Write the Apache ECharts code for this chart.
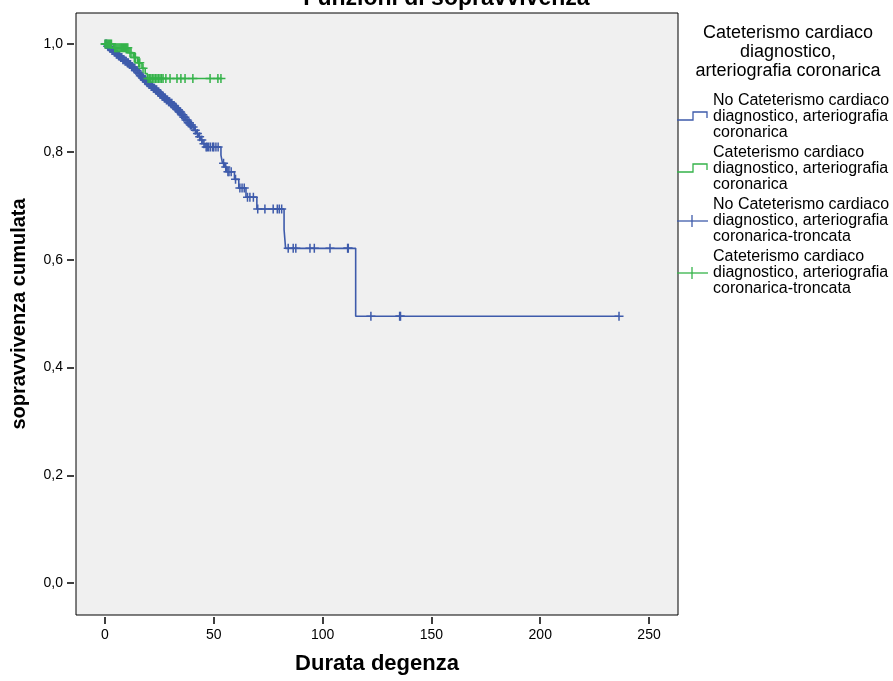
<!DOCTYPE html>
<html>
<head>
<meta charset="utf-8">
<script src="https://cdn.jsdelivr.net/npm/echarts@6/dist/echarts.min.js"></script>
<style>html,body{margin:0;padding:0;background:#fff;}#c{width:893px;height:681px;}</style>
</head>
<body>
<div id="c"></div>
<script>
// ---- data ----
const chartTitle = 'Funzioni di sopravvivenza';
const xAxisTitle = 'Durata degenza';
const yAxisTitle = 'sopravvivenza cumulata';
const legendTitle = 'Cateterismo cardiaco\ndiagnostico,\narteriografia coronarica';
const seriesNames = [
  'No Cateterismo cardiaco\ndiagnostico, arteriografia\ncoronarica',
  'Cateterismo cardiaco\ndiagnostico, arteriografia\ncoronarica',
  'No Cateterismo cardiaco\ndiagnostico, arteriografia\ncoronarica-troncata',
  'Cateterismo cardiaco\ndiagnostico, arteriografia\ncoronarica-troncata'
];
const xTicks = [0, 50, 100, 150, 200, 250];
const yTicks = [0, 0.2, 0.4, 0.6, 0.8, 1.0];
const yTickLabels = ['0,0', '0,2', '0,4', '0,6', '0,8', '1,0'];

// Blue group (No cateterismo): step times and survival after each step
const blueTimes = [0,1,2,3,4,5,6,7,8,9,10,11,12,13,14,15,16,17,18,19,20,21,22,23,24,25,26,27,28,29,30,31,32,33,34,35,36,37,38,39,40,41,42,43,44,45,46,53.3,54,55,56,59.5,61.5,64.8,69.8,82.3,83,115.2,236.2];
const blueSurv = [1.0,0.996,0.992,0.988,0.985,0.981,0.978,0.975,0.971,0.968,0.965,0.962,0.958,0.955,0.951,0.946,0.941,0.937,0.933,0.929,0.925,0.921,0.918,0.915,0.911,0.907,0.903,0.900,0.896,0.893,0.890,0.886,0.882,0.878,0.874,0.869,0.864,0.859,0.854,0.850,0.846,0.840,0.834,0.828,0.822,0.815,0.809,0.794,0.779,0.772,0.763,0.749,0.733,0.716,0.694,0.656,0.621,0.495,0.495];
// Blue censored observations
const blueCensorT = [
  0.25,0.75,1.25,1.75,2.25,2.75,3.25,3.75,4.25,4.75,5.25,5.75,6.25,6.75,7.25,7.75,8.25,8.75,9.25,9.75,
  10.25,10.75,11.25,11.75,12.25,12.75,13.25,13.75,14.25,14.75,15.25,15.75,16.25,16.75,17.25,17.75,18.25,18.75,19.25,19.75,
  20.25,20.75,21.25,21.75,22.25,22.75,23.25,23.75,24.25,24.75,25.25,25.75,26.25,26.75,27.25,27.75,28.25,28.75,29.25,29.75,
  30.25,30.75,31.25,31.75,32.25,32.75,33.25,33.75,34.25,34.75,35.25,35.75,36.25,36.75,37.25,37.75,38.25,38.75,39.25,39.75,
  40.5,41.5,42.5,43.5,44.5,45.5,
  46.5,47,47.7,48.5,49.5,50,51,52,54.5,55.5,56.5,57,58,60,62,63,64,65.5,66.6,68.2,70.2,73.5,77.3,79.2,80.1,81.2,
  84.2,86.5,87.7,94.2,96.2,103.4,111.5,111.8,122.2,135.4,135.8,236.2];
const blueCensorS = [
  1.0,1.0,0.996,0.996,0.992,0.992,0.988,0.988,0.985,0.985,0.981,0.981,0.978,0.978,0.975,0.975,0.971,0.971,0.968,0.968,
  0.965,0.965,0.962,0.962,0.958,0.958,0.955,0.955,0.951,0.951,0.946,0.946,0.941,0.941,0.937,0.937,0.933,0.933,0.929,0.929,
  0.925,0.925,0.921,0.921,0.918,0.918,0.915,0.915,0.911,0.911,0.907,0.907,0.903,0.903,0.900,0.900,0.896,0.896,0.893,0.893,
  0.890,0.890,0.886,0.886,0.882,0.882,0.878,0.878,0.874,0.874,0.869,0.869,0.864,0.864,0.859,0.859,0.854,0.854,0.850,0.850,
  0.846,0.840,0.834,0.828,0.822,0.815,
  0.809,0.809,0.809,0.809,0.809,0.809,0.809,0.809,0.779,0.772,0.763,0.763,0.763,0.749,0.733,0.733,0.733,0.716,0.716,0.716,0.694,0.694,0.694,0.694,0.694,0.694,
  0.621,0.621,0.621,0.621,0.621,0.621,0.621,0.621,0.495,0.495,0.495,0.495];

// Green group (Cateterismo)
const greenTimes = [0,4,11,13,15,17,18.5,19.5,53.3];
const greenSurv = [1.0,0.993,0.984,0.975,0.965,0.955,0.945,0.936,0.936];
const greenCensorT = [0,0.5,1,1.5,2,2.5,3,4.5,5,5.5,6,6.5,7,7.5,8,8.5,9,9.5,10,10.5,11.5,12,13.5,14,15.5,16,17.5,19.8,20.5,21.1,21.8,22.5,23.2,23.9,24.6,25.3,26,26.7,28,29.9,33.1,34.9,36.8,40.4,48.3,51.9,53.3];
const greenCensorS = [1,1,1,1,1,1,1,0.993,0.993,0.993,0.993,0.993,0.993,0.993,0.993,0.993,0.993,0.993,0.993,0.993,0.984,0.984,0.975,0.975,0.965,0.965,0.955,0.936,0.936,0.936,0.936,0.936,0.936,0.936,0.936,0.936,0.936,0.936,0.936,0.936,0.936,0.936,0.936,0.936,0.936,0.936,0.936];

// ---- chart ----
const BLUE = '#3e5bab';
const GREEN = '#35b34a';
const FONT = '"Liberation Sans", Arial, sans-serif';
const pair = (a, b) => a.map((v, i) => [v, b[i]]);
const plusPath = 'path://M4,0h1.6v9.6h-1.6z M0,4h9.6v1.6h-9.6z';

const chart = echarts.init(document.getElementById('c'), null, {renderer: 'canvas'});

const legendItems = [];
const itemTops = [93, 145, 197, 249];
seriesNames.forEach((n, i) => {
  legendItems.push({type: 'text', left: 713, top: itemTops[i], style: {text: n, font: '16px ' + FONT, fill: '#000', lineHeight: 16}});
});
const stepIcon = (yLow, color) => ({type: 'polyline', shape: {points: [[677, yLow], [693, yLow], [693, yLow - 8], [707, yLow - 8], [707, yLow - 2]]}, style: {stroke: color, lineWidth: 1.3, fill: null}});
const crossIcon = (yc, color) => ({type: 'group', children: [
  {type: 'line', shape: {x1: 677, y1: yc, x2: 708, y2: yc}, style: {stroke: color, lineWidth: 1.3}},
  {type: 'line', shape: {x1: 692, y1: yc - 6, x2: 692, y2: yc + 6}, style: {stroke: color, lineWidth: 1.3}}
]});

chart.setOption({
  animation: false,
  backgroundColor: '#ffffff',
  title: {
    text: chartTitle, left: 'center', top: -18,
    textStyle: {fontFamily: FONT, fontSize: 23, fontWeight: 'bold', color: '#000'}
  },
  grid: {
    left: 76, right: 215, top: 13, bottom: 66,
    show: true, backgroundColor: '#f0f0f0', borderColor: '#000', borderWidth: 1
  },
  xAxis: {
    type: 'value', min: -13.3, max: 263.3,
    offset: 2,
    name: xAxisTitle, nameLocation: 'middle', nameGap: 36,
    nameTextStyle: {fontFamily: FONT, fontSize: 22, fontWeight: 'bold', color: '#000'},
    axisLine: {show: false, onZero: false},
    axisTick: {show: true, length: 7, customValues: xTicks, lineStyle: {color: '#000', width: 1.5}},
    axisLabel: {customValues: xTicks, margin: 11, fontFamily: FONT, fontSize: 14, color: '#000'},
    splitLine: {show: false}
  },
  yAxis: {
    type: 'value', min: -0.059, max: 1.0575,
    offset: 2,
    name: yAxisTitle, nameLocation: 'middle', nameGap: 45, nameRotate: 90,
    nameTextStyle: {fontFamily: FONT, fontSize: 20, fontWeight: 'bold', color: '#000'},
    axisLine: {show: false, onZero: false},
    axisTick: {show: true, length: 7, customValues: yTicks, lineStyle: {color: '#000', width: 1.5}},
    axisLabel: {
      customValues: yTicks, margin: 11, fontFamily: FONT, fontSize: 14, color: '#000',
      formatter: (v) => { const i = yTicks.findIndex(t => Math.abs(t - v) < 1e-9); return i >= 0 ? yTickLabels[i] : ''; }
    },
    splitLine: {show: false}
  },
  series: [
    {name: seriesNames[0], type: 'line', step: 'end', data: pair(blueTimes, blueSurv), symbol: 'none',
     lineStyle: {color: BLUE, width: 1.6}, z: 2},
    {name: seriesNames[2], type: 'scatter', data: pair(blueCensorT, blueCensorS), symbol: plusPath, symbolSize: [9, 9],
     itemStyle: {color: BLUE, opacity: 1}, z: 3},
    {name: seriesNames[1], type: 'line', step: 'end', data: pair(greenTimes, greenSurv), symbol: 'none',
     lineStyle: {color: GREEN, width: 1.6}, z: 4},
    {name: seriesNames[3], type: 'scatter', data: pair(greenCensorT, greenCensorS), symbol: plusPath, symbolSize: [9, 9],
     itemStyle: {color: GREEN, opacity: 1}, z: 5}
  ],
  graphic: [
    {type: 'text', x: 788, y: 24, style: {text: legendTitle, font: '18px ' + FONT, fill: '#000', lineHeight: 19, align: 'center'}},
    stepIcon(120, BLUE),
    stepIcon(172, GREEN),
    crossIcon(221, BLUE),
    crossIcon(273, GREEN)
  ].concat(legendItems)
});
</script>
</body>
</html>
